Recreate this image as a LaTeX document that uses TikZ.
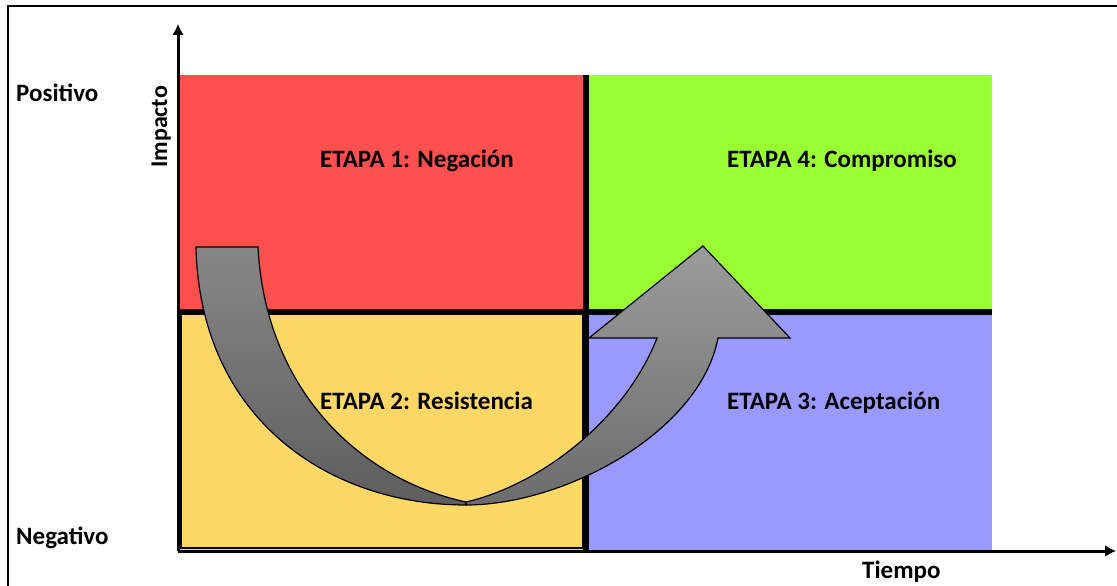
\documentclass[tikz,border=0pt]{standalone}
\usepackage{fontspec}
\setmainfont{Carlito}
\definecolor{qred}{HTML}{FF5050}
\definecolor{qgreen}{HTML}{99FF33}
\definecolor{qyellow}{HTML}{FDD866}
\definecolor{qblue}{HTML}{9999FF}
\definecolor{gtopA}{HTML}{878787}
\definecolor{gbotA}{HTML}{5E5E5E}
\definecolor{gtopB}{HTML}{9C9C9C}
\definecolor{gbotB}{HTML}{6C6C6C}
\begin{document}
\begin{tikzpicture}[x=1pt,y=-1pt,
  stagelbl/.style={font=\fontsize{25}{29}\selectfont\bfseries, inner sep=0pt, anchor=base west},
  sidelbl/.style={font=\fontsize{25}{29}\selectfont\bfseries, inner sep=0pt, anchor=base west},
  axisline/.style={line width=3pt, -{Latex[length=11pt,width=12pt]}},
  sepline/.style={line width=6pt},
  bigarrow/.style={draw=black, line width=1.2pt, line join=miter}
]
\usetikzlibrary{arrows.meta}
\useasboundingbox (0,0) rectangle (1117,586);
% outer frame (top and left edges)
\draw[line width=1.5pt] (8,586) -- (8,6) -- (1117,6);
% quadrants
\fill[qred] (180,75) rectangle (586,312);
\fill[qgreen] (586,75) rectangle (992,312);
\fill[qyellow] (178,312) rectangle (586,551);
\fill[qblue] (586,312) rectangle (992,551);
\draw[line width=2pt] (181,313) rectangle (583,548);
% separators
\coordinate (hl) at (180,312);
\coordinate (hr) at (992,312);
\coordinate (vt) at (586,75);
\coordinate (vb) at (586,551);
\draw[sepline] (hl) -- (hr);
\draw[sepline] (vt) -- (vb);
% axes
\coordinate (origin) at (178,551);
\coordinate (ytip) at (178,24);
\coordinate (xtip) at (1116,551);
\draw[axisline] (origin) -- (ytip);
\draw[axisline] (origin) -- (xtip);
% right limb with arrowhead
\shade[bigarrow, top color=gtopB, bottom color=gbotB]
  (466,502) .. controls (540,485) and (625,420) .. (657,338)
  -- (589,338) -- (703,246) -- (790,338) -- (718,338)
  .. controls (700,432) and (565,505) .. (466,505) -- cycle;
% left limb
\shade[bigarrow, top color=gtopA, bottom color=gbotA]
  (196,247) -- (258,247)
  .. controls (265,385) and (355,478) .. (466,502)
  -- (466,505)
  .. controls (330,505) and (200,420) .. (196,247) -- cycle;
% labels
\node[stagelbl] (s1) at (320,167) {ETAPA 1: Negación};
\node[stagelbl] (s4) at (727,167) {ETAPA 4: Compromiso};
\node[stagelbl] (s2) at (320,409) {ETAPA 2: Resistencia};
\node[stagelbl] (s3) at (727,409) {ETAPA 3: Aceptación};
\node[sidelbl] (pos) at (16,102) {Positivo};
\node[sidelbl] (neg) at (16,544) {Negativo};
\node[sidelbl] (tie) at (862,578) {Tiempo};
\node[sidelbl, font=\fontsize{24}{28}\selectfont\bfseries, rotate=90] (imp) at (167,168) {Impacto};
\end{tikzpicture}
\end{document}
